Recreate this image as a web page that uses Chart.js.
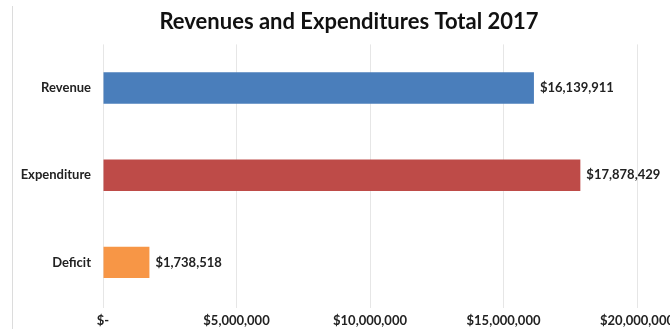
<!DOCTYPE html>
<html>
<head>
<meta charset="utf-8">
<script src="https://cdn.jsdelivr.net/npm/chart.js@4"></script>
<style>
    html, body { margin: 0; padding: 0; background: #fff; overflow: hidden; }
    #frame {
        position: absolute; left: 12px; top: 6px;
        width: 672px; height: 323px;
        border-left: 1px solid #dcdcdc;
    }
    #wrap { position: absolute; left: 0; top: -6px; width: 672px; height: 329px; }
</style>
</head>
<body>
<div id="frame"><div id="wrap"><canvas id="budgetChart"></canvas></div></div>
<script>
const categories = ['Revenue', 'Expenditure', 'Deficit'];
const amounts = [16139911, 17878429, 1738518];
const barColors = ['#4a7ebb', '#be4b48', '#f79646'];
const xTicks = [0, 5000000, 10000000, 15000000, 20000000];

function money(v) {
    if (v === 0) return '$-';
    return '$' + v.toLocaleString('en-US');
}

// value labels at the end of each bar
const valueLabels = {
    id: 'valueLabels',
    afterDatasetsDraw(chart) {
        const ctx = chart.ctx;
        const meta = chart.getDatasetMeta(0);
        ctx.save();
        ctx.font = 'bold 13px Lato';
        ctx.fillStyle = '#222';
        ctx.textBaseline = 'middle';
        meta.data.forEach((bar, i) => {
            ctx.fillText(money(amounts[i]), bar.x + 6, bar.y);
        });
        ctx.restore();
    }
};

// center the title on the whole canvas, not on the padded area
const wideTitle = {
    id: 'wideTitle',
    afterLayout(chart) {
        if (chart.titleBlock) {
            chart.titleBlock.left = 0;
            chart.titleBlock.right = chart.width;
            chart.titleBlock.width = chart.width;
        }
    }
};

const ctx = document.getElementById('budgetChart').getContext('2d');
const budgetChart = new Chart(ctx, {
    type: 'bar',
    data: {
        labels: categories,
        datasets: [{
            data: amounts,
            backgroundColor: barColors,
            barPercentage: 0.36,
            categoryPercentage: 1
        }]
    },
    options: {
        indexAxis: 'y',
        responsive: true,
        maintainAspectRatio: false,
        animation: false,
        layout: { padding: { left: 0, right: 48, top: 0, bottom: 0 } },
        plugins: {
            legend: { display: false },
            tooltip: { enabled: false },
            title: {
                display: true,
                text: 'Revenues and Expenditures Total 2017',
                color: '#111',
                font: { family: 'Lato', size: 22, weight: 'bold' },
                padding: { top: 9, bottom: 9 }
            }
        },
        scales: {
            x: {
                min: 0,
                max: 20000000,
                afterBuildTicks: axis => { axis.ticks = xTicks.map(v => ({ value: v })); },
                afterFit: axis => { axis.height = 23; },
                border: { display: false },
                grid: { color: '#e6e6e6', tickLength: 2 },
                ticks: {
                    maxRotation: 0,
                    padding: 5,
                    color: '#222',
                    font: { family: 'Lato', size: 13, weight: 'bold' },
                    callback: v => money(v)
                }
            },
            y: {
                afterFit: axis => { axis.width = 90; },
                border: { display: false },
                grid: { display: false, drawTicks: false },
                ticks: {
                    padding: 12,
                    color: '#222',
                    font: { family: 'Lato', size: 13, weight: 'bold' }
                }
            }
        }
    },
    plugins: [valueLabels, wideTitle]
});
</script>
</body>
</html>
